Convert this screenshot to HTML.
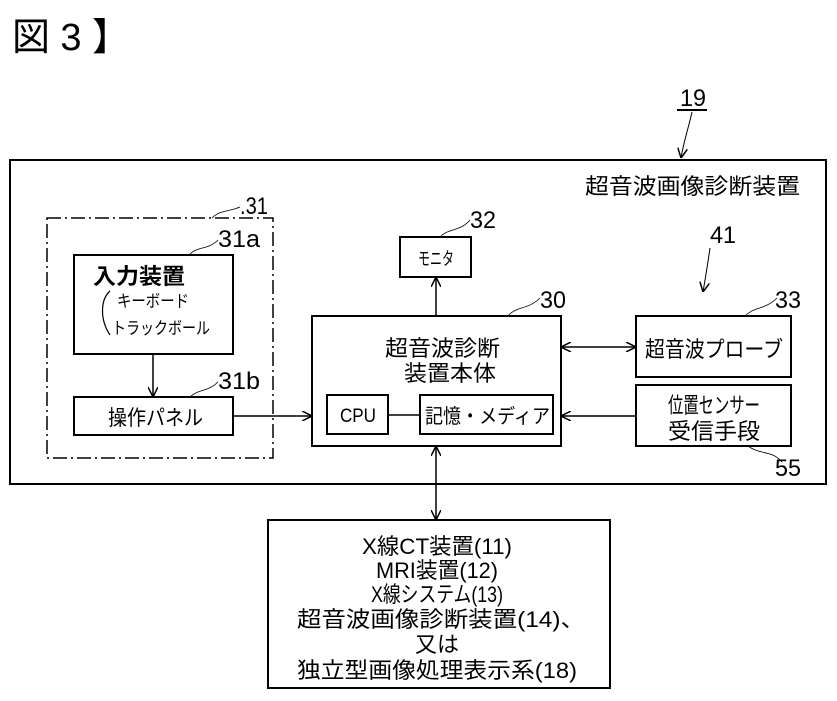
<!DOCTYPE html>
<html><head><meta charset="utf-8"><style>
html,body{margin:0;padding:0;background:#fff;}
svg{display:block;}
text{font-family:"Liberation Sans","Noto Sans CJK JP",sans-serif;fill:#000;}
</style></head><body>
<svg width="837" height="701" viewBox="0 0 837 701" xmlns="http://www.w3.org/2000/svg">
<defs>
<marker id="a" viewBox="0 0 10 10" refX="10" refY="5" markerWidth="10" markerHeight="10" orient="auto-start-reverse" markerUnits="userSpaceOnUse">
<path d="M0,0 L10,5 L0,10" fill="none" stroke="#000" stroke-width="1.5"/>
</marker>
</defs>
<text x="12" y="50" font-size="38" textLength="118" lengthAdjust="spacing">図 3 】</text>

<text x="680" y="106" font-size="24" textLength="26" lengthAdjust="spacingAndGlyphs">19</text>
<line x1="677" y1="110" x2="707" y2="110" stroke="#000" stroke-width="2"/>
<path d="M692,112 C688,130 684,140 681,158" fill="none" stroke="#000" stroke-width="1" marker-end="url(#a)"/>

<rect x="10" y="160" width="816" height="324" fill="none" stroke="#000" stroke-width="2"/>
<text x="585" y="194" font-size="22" textLength="215" lengthAdjust="spacingAndGlyphs">超音波画像診断装置</text>

<rect x="47" y="218" width="226" height="240" fill="none" stroke="#000" stroke-width="1.5" stroke-dasharray="14,4,2,4"/>
<text x="240" y="214" font-size="24" textLength="28" lengthAdjust="spacingAndGlyphs">.31</text>
<path d="M212,218 C220,210 228,212 240,207" fill="none" stroke="#000" stroke-width="0.8"/>
<text x="218" y="247" font-size="24" textLength="42" lengthAdjust="spacingAndGlyphs">31a</text>
<path d="M190,254 C198,246 208,250 218,240" fill="none" stroke="#000" stroke-width="0.8"/>
<rect x="74" y="255" width="159" height="99" fill="none" stroke="#000" stroke-width="2"/>
<text x="93" y="284" font-size="22" font-weight="bold" textLength="92" lengthAdjust="spacingAndGlyphs">入力装置</text>
<path d="M110,291 C100,300 100,320 110,335" fill="none" stroke="#000" stroke-width="1.2"/>
<text x="117" y="307" font-size="17" textLength="72" lengthAdjust="spacingAndGlyphs">キーボード</text>
<text x="112" y="334" font-size="17" textLength="98" lengthAdjust="spacingAndGlyphs">トラックボール</text>
<line x1="153" y1="354" x2="153" y2="397" stroke="#000" stroke-width="1.5" marker-end="url(#a)"/>
<text x="218" y="389" font-size="24" textLength="42" lengthAdjust="spacingAndGlyphs">31b</text>
<path d="M190,397 C198,389 208,392 218,382" fill="none" stroke="#000" stroke-width="0.8"/>
<rect x="74" y="397" width="159" height="38" fill="none" stroke="#000" stroke-width="2"/>
<text x="108" y="425" font-size="21" textLength="95" lengthAdjust="spacingAndGlyphs">操作パネル</text>
<line x1="233" y1="416" x2="312" y2="416" stroke="#000" stroke-width="1.5" marker-end="url(#a)"/>

<text x="470" y="228" font-size="24" textLength="26" lengthAdjust="spacingAndGlyphs">32</text>
<path d="M440,237 C448,228 460,232 470,220" fill="none" stroke="#000" stroke-width="0.8"/>
<rect x="400" y="237" width="71" height="40" fill="none" stroke="#000" stroke-width="2"/>
<text x="418" y="265" font-size="18" textLength="36" lengthAdjust="spacingAndGlyphs">モニタ</text>
<line x1="436" y1="316" x2="436" y2="277" stroke="#000" stroke-width="1.5" marker-end="url(#a)"/>

<text x="540" y="308" font-size="24" textLength="26" lengthAdjust="spacingAndGlyphs">30</text>
<path d="M508,316 C516,306 528,310 540,298" fill="none" stroke="#000" stroke-width="0.8"/>
<rect x="312" y="316" width="249" height="130" fill="none" stroke="#000" stroke-width="2"/>
<text x="385" y="356" font-size="22" textLength="115" lengthAdjust="spacingAndGlyphs">超音波診断</text>
<text x="404" y="381" font-size="22" textLength="92" lengthAdjust="spacingAndGlyphs">装置本体</text>
<rect x="327" y="395" width="61" height="39" fill="none" stroke="#000" stroke-width="2"/>
<text x="340" y="422" font-size="19" textLength="36" lengthAdjust="spacingAndGlyphs">CPU</text>
<line x1="388" y1="415" x2="420" y2="415" stroke="#000" stroke-width="1.5"/>
<rect x="420" y="395" width="133" height="39" fill="none" stroke="#000" stroke-width="2"/>
<text x="425" y="423" font-size="20" textLength="125" lengthAdjust="spacingAndGlyphs">記憶・メディア</text>

<text x="710" y="243" font-size="24" textLength="26" lengthAdjust="spacingAndGlyphs">41</text>
<path d="M710,248 C708,262 706,275 703,292" fill="none" stroke="#000" stroke-width="1" marker-end="url(#a)"/>
<text x="775" y="308" font-size="24" textLength="26" lengthAdjust="spacingAndGlyphs">33</text>
<path d="M745,316 C755,306 765,310 777,298" fill="none" stroke="#000" stroke-width="0.8"/>
<rect x="636" y="316" width="155" height="61" fill="none" stroke="#000" stroke-width="2"/>
<text x="645" y="357" font-size="22" textLength="138" lengthAdjust="spacingAndGlyphs">超音波プローブ</text>
<line x1="561" y1="347" x2="636" y2="347" stroke="#000" stroke-width="1.5" marker-start="url(#a)" marker-end="url(#a)"/>

<rect x="636" y="385" width="155" height="61" fill="none" stroke="#000" stroke-width="2"/>
<text x="668" y="413" font-size="22" textLength="92" lengthAdjust="spacingAndGlyphs">位置センサー</text>
<text x="668" y="439" font-size="22" textLength="92" lengthAdjust="spacingAndGlyphs">受信手段</text>
<line x1="636" y1="416" x2="561" y2="416" stroke="#000" stroke-width="1.5" marker-end="url(#a)"/>
<path d="M748,446 C760,455 772,450 782,462" fill="none" stroke="#000" stroke-width="0.8"/>
<text x="775" y="476" font-size="24" textLength="26" lengthAdjust="spacingAndGlyphs">55</text>

<line x1="436" y1="446" x2="436" y2="520" stroke="#000" stroke-width="1.5" marker-start="url(#a)" marker-end="url(#a)"/>

<rect x="268" y="520" width="342" height="168" fill="none" stroke="#000" stroke-width="2"/>
<g font-size="22" text-anchor="middle">
<text x="437" y="554" textLength="150" lengthAdjust="spacingAndGlyphs">X線CT装置(11)</text>
<text x="437" y="578" textLength="122" lengthAdjust="spacingAndGlyphs">MRI装置(12)</text>
<text x="437" y="602" textLength="132" lengthAdjust="spacingAndGlyphs">X線システム(13)</text>
<text x="441" y="627" textLength="288" lengthAdjust="spacingAndGlyphs">超音波画像診断装置(14)、</text>
<text x="437" y="652" textLength="44" lengthAdjust="spacingAndGlyphs">又は</text>
<text x="437" y="678" textLength="280" lengthAdjust="spacingAndGlyphs">独立型画像処理表示系(18)</text>
</g>
</svg>
</body></html>
